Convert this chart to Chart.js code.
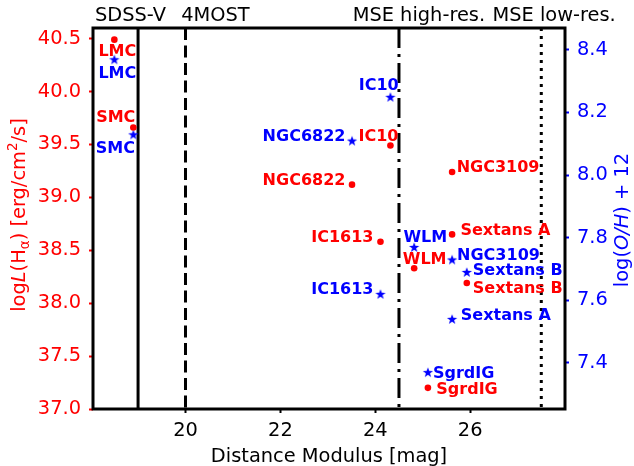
<!DOCTYPE html>
<html>
<head>
<meta charset="utf-8">
<script src="https://cdn.jsdelivr.net/npm/chart.js@4.4.1/dist/chart.umd.min.js"></script>
<style>
    html, body { margin: 0; padding: 0; background: #fff; }
    #wrap { width: 634px; height: 466px; }
</style>
</head>
<body>
<div id="wrap"><canvas id="chart" width="634" height="466"></canvas></div>
<script>
// data
const galaxies = ["LMC", "SMC", "IC10", "NGC6822", "NGC3109", "IC1613", "Sextans A", "WLM", "Sextans B", "SgrdIG"];
const distanceModulus = [18.50, 18.90, 24.32, 23.51, 25.62, 24.11, 25.62, 24.82, 25.93, 25.11];
const logHalpha = [40.49, 39.66, 39.49, 39.12, 39.24, 38.58, 38.65, 38.33, 38.19, 37.20];
const metallicity = [8.37, 8.13, 8.25, 8.11, 7.73, 7.62, 7.54, 7.77, 7.69, 7.37];

const xTicks = [20, 22, 24, 26];
const leftTicks = [37.0, 37.5, 38.0, 38.5, 39.0, 39.5, 40.0, 40.5];
const rightTicks = [7.4, 7.6, 7.8, 8.0, 8.2, 8.4];

const surveys = ["SDSS-V", "4MOST", "MSE high-res.", "MSE low-res."];
const surveyLimits = [19, 20, 24.5, 27.5];
const surveyLabelX = [18.84, 20.63, 24.92, 27.77];

// label placement: [align, dx, dy(baseline)] in pixels
const redLabelPos = [
    ["center", 3, 16], ["right", 2, -5], ["right", 8, -4.4], ["right", -6.6, 0], ["left", 4.6, -0.4],
    ["right", -7, 0], ["left", 8.3, 0.3], ["left", -11.4, -4.4], ["left", 6, 10], ["left", 8.4, 6.6]
];
const blueLabelPos = [
    ["center", 3, 18.7], ["right", 1.7, 18.3], ["right", 8.3, -6.6], ["right", -6.6, 0], ["left", 5, 0.7],
    ["right", -7, -0.3], ["left", 8.7, 1], ["left", -10.7, -4.6], ["left", 6, 3.4], ["left", 5, 5.7]
];

const RED = "#ff0000";
const BLUE = "#0000ff";
const FONT = "'DejaVu Sans', sans-serif";
const TICK_SIZE = 19.4;

function makeStar(size, color) {
    const c = document.createElement("canvas");
    c.width = size;
    c.height = size;
    const g = c.getContext("2d");
    const R = size / 2 - 0.6, r = R * 0.4;
    g.beginPath();
    for (let i = 0; i < 10; i++) {
        const rad = i % 2 === 0 ? R : r;
        const a = -Math.PI / 2 + i * Math.PI / 5;
        const px = size / 2 + rad * Math.cos(a);
        const py = size / 2 + rad * Math.sin(a) + 0.6;
        if (i === 0) g.moveTo(px, py); else g.lineTo(px, py);
    }
    g.closePath();
    g.fillStyle = color;
    g.fill();
    return c;
}

function drawRich(ctx, parts, size, color) {
    let total = 0;
    parts.forEach(function (p) {
        const s = p.sub || p.sup ? size * 0.7 : size;
        ctx.font = (p.italic ? "italic " : "") + s + "px " + FONT;
        p.w = ctx.measureText(p.t).width;
        p.s = s;
        total += p.w;
    });
    let x = -total / 2;
    ctx.fillStyle = color;
    ctx.textAlign = "left";
    ctx.textBaseline = "alphabetic";
    parts.forEach(function (p) {
        ctx.font = (p.italic ? "italic " : "") + p.s + "px " + FONT;
        let y = 0;
        if (p.sub) y = size * 0.2;
        if (p.sup) y = -size * 0.4;
        ctx.fillText(p.t, x, y);
        x += p.w;
    });
}

const decorPlugin = {
    id: "decor",
    beforeDatasetsDraw(chart) {
        const ctx = chart.ctx;
        const area = chart.chartArea;
        const xs = chart.scales.x;
        const dashes = [[], [12, 5.5], [20, 6, 3, 6], [3, 5]];
        ctx.save();
        ctx.strokeStyle = "#000";
        ctx.lineWidth = 3;
        surveyLimits.forEach(function (v, i) {
            const px = xs.getPixelForValue(v);
            ctx.setLineDash(dashes[i]);
            ctx.beginPath();
            ctx.moveTo(px, area.top);
            ctx.lineTo(px, area.bottom);
            ctx.stroke();
        });
        ctx.restore();
    },
    afterDatasetsDraw(chart) {
        const ctx = chart.ctx;
        const xs = chart.scales.x;
        const yl = chart.scales.y;
        const yr = chart.scales.y2;
        ctx.save();
        ctx.font = "bold 16px " + FONT;
        galaxies.forEach(function (name, i) {
            const px = xs.getPixelForValue(distanceModulus[i]);
            let p = redLabelPos[i];
            ctx.fillStyle = RED;
            ctx.textAlign = p[0];
            ctx.textBaseline = "alphabetic";
            ctx.fillText(name, px + p[1], yl.getPixelForValue(logHalpha[i]) + p[2]);
            p = blueLabelPos[i];
            ctx.fillStyle = BLUE;
            ctx.textAlign = p[0];
            ctx.fillText(name, px + p[1], yr.getPixelForValue(metallicity[i]) + p[2]);
        });
        ctx.restore();
    },
    afterDraw(chart) {
        const ctx = chart.ctx;
        const area = chart.chartArea;
        const xs = chart.scales.x;
        ctx.save();
        // frame
        ctx.strokeStyle = "#000";
        ctx.lineWidth = 3;
        ctx.strokeRect(area.left, area.top, area.right - area.left, area.bottom - area.top);

        // survey names on top
        ctx.fillStyle = "#000";
        ctx.font = TICK_SIZE + "px " + FONT;
        ctx.textAlign = "center";
        ctx.textBaseline = "alphabetic";
        surveys.forEach(function (s, i) {
            ctx.fillText(s, xs.getPixelForValue(surveyLabelX[i]), 21);
        });

        // x title
        ctx.fillText("Distance Modulus [mag]", (area.left + area.right) / 2, 462);

        // left title
        ctx.save();
        ctx.translate(25, 215);
        ctx.rotate(-Math.PI / 2);
        drawRich(ctx, [
            { t: "log" }, { t: "L", italic: true }, { t: "(H" }, { t: "\u03b1", sub: true },
            { t: ") [erg/cm" }, { t: "2", sup: true }, { t: "/s]" }
        ], TICK_SIZE, RED);
        ctx.restore();

        // right title
        ctx.save();
        ctx.translate(628, 220);
        ctx.rotate(-Math.PI / 2);
        drawRich(ctx, [
            { t: "log(" }, { t: "O/H", italic: true }, { t: ") + 12" }
        ], TICK_SIZE, BLUE);
        ctx.restore();

        ctx.restore();
    },
};

function fixedTicks(values) {
    return function (scale) {
        scale.ticks = values.map(function (v) { return { value: v }; });
    };
}

const ctx = document.getElementById("chart").getContext("2d");

new Chart(ctx, {
    type: "scatter",
    data: {
        datasets: [
            {
                label: "log L(Halpha)",
                data: distanceModulus.map(function (x, i) { return { x: x, y: logHalpha[i] }; }),
                yAxisID: "y",
                backgroundColor: RED,
                pointRadius: 3.3,
                pointBorderWidth: 0,
                pointStyle: "circle",
            },
            {
                label: "12 + log(O/H)",
                data: distanceModulus.map(function (x, i) { return { x: x, y: metallicity[i] }; }),
                yAxisID: "y2",
                backgroundColor: BLUE,
                pointRadius: 6,
                pointBorderWidth: 0,
                pointStyle: makeStar(12, BLUE),
            },
        ],
    },
    options: {
        responsive: false,
        animation: false,
        devicePixelRatio: 1,
        layout: {
            padding: { top: 28, left: 0, right: 0, bottom: 0 },
        },
        plugins: {
            legend: { display: false },
            tooltip: { enabled: false },
        },
        scales: {
            x: {
                type: "linear",
                min: 18.05,
                max: 28.0,
                afterBuildTicks: fixedTicks(xTicks),
                afterFit: function (scale) { scale.height = 57; },
                grid: {
                    drawOnChartArea: false,
                    tickLength: 4,
                    tickWidth: 2,
                    tickColor: "#000",
                },
                border: { display: false },
                ticks: {
                    color: "#000",
                    font: { family: FONT, size: TICK_SIZE },
                    padding: 6,
                    maxRotation: 0,
                    callback: function (v) { return String(v); },
                },
            },
            y: {
                type: "linear",
                position: "left",
                min: 37.0,
                max: 40.6,
                afterBuildTicks: fixedTicks(leftTicks),
                afterFit: function (scale) { scale.width = 93; },
                grid: {
                    drawOnChartArea: false,
                    tickLength: 4,
                    tickWidth: 2,
                    tickColor: RED,
                },
                border: { display: false },
                ticks: {
                    color: RED,
                    font: { family: FONT, size: TICK_SIZE },
                    padding: 8,
                    callback: function (v) { return v.toFixed(1); },
                },
            },
            y2: {
                type: "linear",
                position: "right",
                min: 7.252,
                max: 8.47,
                afterBuildTicks: fixedTicks(rightTicks),
                afterFit: function (scale) { scale.width = 69; },
                grid: {
                    drawOnChartArea: false,
                    tickLength: 4,
                    tickWidth: 2,
                    tickColor: BLUE,
                },
                border: { display: false },
                ticks: {
                    color: BLUE,
                    font: { family: FONT, size: TICK_SIZE },
                    padding: 8,
                    callback: function (v) { return v.toFixed(1); },
                },
            },
        },
    },
    plugins: [decorPlugin],
});
</script>
</body>
</html>
